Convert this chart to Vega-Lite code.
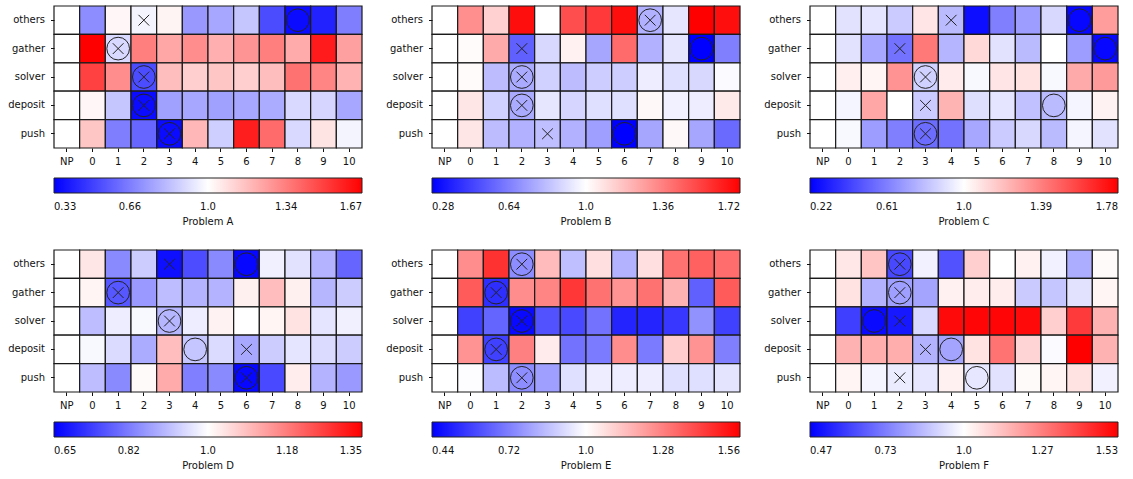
{
"$schema": "https://vega.github.io/schema/vega-lite/v6.json",
"padding": {"left": 7, "top": 5, "right": 5, "bottom": 5},
"columns": 3,
"spacing": {"row": 102, "column": 70},
"bounds": "flush",
"resolve": {"scale": {"color": "independent", "x": "independent", "y": "independent"}, "legend": {"color": "independent"}},
"config": {
  "view": {"stroke": null},
  "font": "DejaVu Sans",
  "axis": {"domain": false, "grid": false, "tickColor": "#111", "tickSize": 3.5, "labelFontSize": 10, "labelColor": "#111"},
  "axisX": {"labelAngle": 0, "labelPadding": 5},
  "axisY": {"labelPadding": 6},
  "legend": {"orient": "bottom", "direction": "horizontal", "gradientLength": 308, "gradientThickness": 15, "gradientStrokeColor": "#222", "gradientStrokeWidth": 1, "labelFontSize": 10, "labelColor": "#111", "labelAlign": "center", "titleOrient": "bottom", "titleAnchor": "middle", "titleFontSize": 10, "titleFontWeight": "normal", "titleColor": "#111", "titlePadding": 5, "offset": 11, "labelOverlap": false}
},
"datasets": {
"cells": [
{"p":"A","r":"others","c":"NP","v":1},{"p":"A","r":"others","c":"0","v":0.70},{"p":"A","r":"others","c":"1","v":1.02},{"p":"A","r":"others","c":"2","v":0.97},{"p":"A","r":"others","c":"3","v":1.03},{"p":"A","r":"others","c":"4","v":0.73},{"p":"A","r":"others","c":"5","v":0.77},{"p":"A","r":"others","c":"6","v":0.85},{"p":"A","r":"others","c":"7","v":0.53},{"p":"A","r":"others","c":"8","v":0.36},{"p":"A","r":"others","c":"9","v":0.42},{"p":"A","r":"others","c":"10","v":0.66},
{"p":"A","r":"gather","c":"NP","v":1},{"p":"A","r":"gather","c":"0","v":1.67},{"p":"A","r":"gather","c":"1","v":0.90},{"p":"A","r":"gather","c":"2","v":1.34},{"p":"A","r":"gather","c":"3","v":1.23},{"p":"A","r":"gather","c":"4","v":1.30},{"p":"A","r":"gather","c":"5","v":1.21},{"p":"A","r":"gather","c":"6","v":1.28},{"p":"A","r":"gather","c":"7","v":1.34},{"p":"A","r":"gather","c":"8","v":1.22},{"p":"A","r":"gather","c":"9","v":1.60},{"p":"A","r":"gather","c":"10","v":1.25},
{"p":"A","r":"solver","c":"NP","v":1},{"p":"A","r":"solver","c":"0","v":1.50},{"p":"A","r":"solver","c":"1","v":1.30},{"p":"A","r":"solver","c":"2","v":0.53},{"p":"A","r":"solver","c":"3","v":1.17},{"p":"A","r":"solver","c":"4","v":1.13},{"p":"A","r":"solver","c":"5","v":1.15},{"p":"A","r":"solver","c":"6","v":1.13},{"p":"A","r":"solver","c":"7","v":1.17},{"p":"A","r":"solver","c":"8","v":1.37},{"p":"A","r":"solver","c":"9","v":1.32},{"p":"A","r":"solver","c":"10","v":1.20},
{"p":"A","r":"deposit","c":"NP","v":1},{"p":"A","r":"deposit","c":"0","v":1.02},{"p":"A","r":"deposit","c":"1","v":0.85},{"p":"A","r":"deposit","c":"2","v":0.36},{"p":"A","r":"deposit","c":"3","v":0.75},{"p":"A","r":"deposit","c":"4","v":0.77},{"p":"A","r":"deposit","c":"5","v":0.75},{"p":"A","r":"deposit","c":"6","v":0.77},{"p":"A","r":"deposit","c":"7","v":0.78},{"p":"A","r":"deposit","c":"8","v":0.90},{"p":"A","r":"deposit","c":"9","v":0.89},{"p":"A","r":"deposit","c":"10","v":0.77},
{"p":"A","r":"push","c":"NP","v":1},{"p":"A","r":"push","c":"0","v":1.15},{"p":"A","r":"push","c":"1","v":0.66},{"p":"A","r":"push","c":"2","v":0.60},{"p":"A","r":"push","c":"3","v":0.36},{"p":"A","r":"push","c":"4","v":1.19},{"p":"A","r":"push","c":"5","v":0.87},{"p":"A","r":"push","c":"6","v":1.59},{"p":"A","r":"push","c":"7","v":1.39},{"p":"A","r":"push","c":"8","v":0.90},{"p":"A","r":"push","c":"9","v":1.07},{"p":"A","r":"push","c":"10","v":0.97},
{"p":"B","r":"others","c":"NP","v":1},{"p":"B","r":"others","c":"0","v":1.32},{"p":"B","r":"others","c":"1","v":1.13},{"p":"B","r":"others","c":"2","v":1.68},{"p":"B","r":"others","c":"3","v":1.0},{"p":"B","r":"others","c":"4","v":1.50},{"p":"B","r":"others","c":"5","v":1.56},{"p":"B","r":"others","c":"6","v":1.68},{"p":"B","r":"others","c":"7","v":0.78},{"p":"B","r":"others","c":"8","v":0.93},{"p":"B","r":"others","c":"9","v":1.72},{"p":"B","r":"others","c":"10","v":1.68},
{"p":"B","r":"gather","c":"NP","v":1},{"p":"B","r":"gather","c":"0","v":1.01},{"p":"B","r":"gather","c":"1","v":1.24},{"p":"B","r":"gather","c":"2","v":0.55},{"p":"B","r":"gather","c":"3","v":0.89},{"p":"B","r":"gather","c":"4","v":1.04},{"p":"B","r":"gather","c":"5","v":0.75},{"p":"B","r":"gather","c":"6","v":1.42},{"p":"B","r":"gather","c":"7","v":0.78},{"p":"B","r":"gather","c":"8","v":0.93},{"p":"B","r":"gather","c":"9","v":0.28},{"p":"B","r":"gather","c":"10","v":0.64},
{"p":"B","r":"solver","c":"NP","v":1},{"p":"B","r":"solver","c":"0","v":1.01},{"p":"B","r":"solver","c":"1","v":0.81},{"p":"B","r":"solver","c":"2","v":0.76},{"p":"B","r":"solver","c":"3","v":0.87},{"p":"B","r":"solver","c":"4","v":0.81},{"p":"B","r":"solver","c":"5","v":0.86},{"p":"B","r":"solver","c":"6","v":0.86},{"p":"B","r":"solver","c":"7","v":0.95},{"p":"B","r":"solver","c":"8","v":0.91},{"p":"B","r":"solver","c":"9","v":0.89},{"p":"B","r":"solver","c":"10","v":0.99},
{"p":"B","r":"deposit","c":"NP","v":1},{"p":"B","r":"deposit","c":"0","v":1.07},{"p":"B","r":"deposit","c":"1","v":0.87},{"p":"B","r":"deposit","c":"2","v":0.76},{"p":"B","r":"deposit","c":"3","v":0.93},{"p":"B","r":"deposit","c":"4","v":0.88},{"p":"B","r":"deposit","c":"5","v":0.91},{"p":"B","r":"deposit","c":"6","v":0.91},{"p":"B","r":"deposit","c":"7","v":1.02},{"p":"B","r":"deposit","c":"8","v":0.96},{"p":"B","r":"deposit","c":"9","v":0.95},{"p":"B","r":"deposit","c":"10","v":1.06},
{"p":"B","r":"push","c":"NP","v":1},{"p":"B","r":"push","c":"0","v":1.07},{"p":"B","r":"push","c":"1","v":0.81},{"p":"B","r":"push","c":"2","v":0.78},{"p":"B","r":"push","c":"3","v":0.82},{"p":"B","r":"push","c":"4","v":0.78},{"p":"B","r":"push","c":"5","v":0.73},{"p":"B","r":"push","c":"6","v":0.28},{"p":"B","r":"push","c":"7","v":0.75},{"p":"B","r":"push","c":"8","v":1.02},{"p":"B","r":"push","c":"9","v":0.75},{"p":"B","r":"push","c":"10","v":0.58},
{"p":"C","r":"others","c":"NP","v":1},{"p":"C","r":"others","c":"0","v":0.91},{"p":"C","r":"others","c":"1","v":0.92},{"p":"C","r":"others","c":"2","v":0.84},{"p":"C","r":"others","c":"3","v":1.08},{"p":"C","r":"others","c":"4","v":0.79},{"p":"C","r":"others","c":"5","v":0.26},{"p":"C","r":"others","c":"6","v":0.61},{"p":"C","r":"others","c":"7","v":0.70},{"p":"C","r":"others","c":"8","v":0.88},{"p":"C","r":"others","c":"9","v":0.24},{"p":"C","r":"others","c":"10","v":1.30},
{"p":"C","r":"gather","c":"NP","v":1},{"p":"C","r":"gather","c":"0","v":0.91},{"p":"C","r":"gather","c":"1","v":0.73},{"p":"C","r":"gather","c":"2","v":0.57},{"p":"C","r":"gather","c":"3","v":1.41},{"p":"C","r":"gather","c":"4","v":0.77},{"p":"C","r":"gather","c":"5","v":1.12},{"p":"C","r":"gather","c":"6","v":0.91},{"p":"C","r":"gather","c":"7","v":0.79},{"p":"C","r":"gather","c":"8","v":1.0},{"p":"C","r":"gather","c":"9","v":0.70},{"p":"C","r":"gather","c":"10","v":0.24},
{"p":"C","r":"solver","c":"NP","v":1},{"p":"C","r":"solver","c":"0","v":1.05},{"p":"C","r":"solver","c":"1","v":1.03},{"p":"C","r":"solver","c":"2","v":1.33},{"p":"C","r":"solver","c":"3","v":0.86},{"p":"C","r":"solver","c":"4","v":1.06},{"p":"C","r":"solver","c":"5","v":0.98},{"p":"C","r":"solver","c":"6","v":1.08},{"p":"C","r":"solver","c":"7","v":1.09},{"p":"C","r":"solver","c":"8","v":0.98},{"p":"C","r":"solver","c":"9","v":1.26},{"p":"C","r":"solver","c":"10","v":1.31},
{"p":"C","r":"deposit","c":"NP","v":1},{"p":"C","r":"deposit","c":"0","v":0.97},{"p":"C","r":"deposit","c":"1","v":1.27},{"p":"C","r":"deposit","c":"2","v":1.0},{"p":"C","r":"deposit","c":"3","v":0.84},{"p":"C","r":"deposit","c":"4","v":1.23},{"p":"C","r":"deposit","c":"5","v":0.90},{"p":"C","r":"deposit","c":"6","v":0.92},{"p":"C","r":"deposit","c":"7","v":0.81},{"p":"C","r":"deposit","c":"8","v":0.79},{"p":"C","r":"deposit","c":"9","v":0.97},{"p":"C","r":"deposit","c":"10","v":1.04},
{"p":"C","r":"push","c":"NP","v":1},{"p":"C","r":"push","c":"0","v":0.98},{"p":"C","r":"push","c":"1","v":0.70},{"p":"C","r":"push","c":"2","v":0.61},{"p":"C","r":"push","c":"3","v":0.55},{"p":"C","r":"push","c":"4","v":0.57},{"p":"C","r":"push","c":"5","v":0.73},{"p":"C","r":"push","c":"6","v":0.84},{"p":"C","r":"push","c":"7","v":0.88},{"p":"C","r":"push","c":"8","v":0.79},{"p":"C","r":"push","c":"9","v":0.97},{"p":"C","r":"push","c":"10","v":0.91},
{"p":"D","r":"others","c":"NP","v":1},{"p":"D","r":"others","c":"0","v":1.035},{"p":"D","r":"others","c":"1","v":0.84},{"p":"D","r":"others","c":"2","v":0.93},{"p":"D","r":"others","c":"3","v":0.67},{"p":"D","r":"others","c":"4","v":0.755},{"p":"D","r":"others","c":"5","v":0.84},{"p":"D","r":"others","c":"6","v":0.66},{"p":"D","r":"others","c":"7","v":0.98},{"p":"D","r":"others","c":"8","v":0.96},{"p":"D","r":"others","c":"9","v":0.895},{"p":"D","r":"others","c":"10","v":0.79},
{"p":"D","r":"gather","c":"NP","v":1},{"p":"D","r":"gather","c":"0","v":1.014},{"p":"D","r":"gather","c":"1","v":0.77},{"p":"D","r":"gather","c":"2","v":0.86},{"p":"D","r":"gather","c":"3","v":0.91},{"p":"D","r":"gather","c":"4","v":0.895},{"p":"D","r":"gather","c":"5","v":0.895},{"p":"D","r":"gather","c":"6","v":1.02},{"p":"D","r":"gather","c":"7","v":1.09},{"p":"D","r":"gather","c":"8","v":1.02},{"p":"D","r":"gather","c":"9","v":0.90},{"p":"D","r":"gather","c":"10","v":0.93},
{"p":"D","r":"solver","c":"NP","v":1},{"p":"D","r":"solver","c":"0","v":0.91},{"p":"D","r":"solver","c":"1","v":0.975},{"p":"D","r":"solver","c":"2","v":0.99},{"p":"D","r":"solver","c":"3","v":0.90},{"p":"D","r":"solver","c":"4","v":0.975},{"p":"D","r":"solver","c":"5","v":1.018},{"p":"D","r":"solver","c":"6","v":1.0},{"p":"D","r":"solver","c":"7","v":1.014},{"p":"D","r":"solver","c":"8","v":1.04},{"p":"D","r":"solver","c":"9","v":0.965},{"p":"D","r":"solver","c":"10","v":0.98},
{"p":"D","r":"deposit","c":"NP","v":1},{"p":"D","r":"deposit","c":"0","v":0.99},{"p":"D","r":"deposit","c":"1","v":0.95},{"p":"D","r":"deposit","c":"2","v":0.885},{"p":"D","r":"deposit","c":"3","v":1.09},{"p":"D","r":"deposit","c":"4","v":0.92},{"p":"D","r":"deposit","c":"5","v":0.95},{"p":"D","r":"deposit","c":"6","v":0.88},{"p":"D","r":"deposit","c":"7","v":0.93},{"p":"D","r":"deposit","c":"8","v":0.965},{"p":"D","r":"deposit","c":"9","v":0.95},{"p":"D","r":"deposit","c":"10","v":0.93},
{"p":"D","r":"push","c":"NP","v":1},{"p":"D","r":"push","c":"0","v":0.91},{"p":"D","r":"push","c":"1","v":0.84},{"p":"D","r":"push","c":"2","v":1.007},{"p":"D","r":"push","c":"3","v":1.115},{"p":"D","r":"push","c":"4","v":0.825},{"p":"D","r":"push","c":"5","v":0.84},{"p":"D","r":"push","c":"6","v":0.66},{"p":"D","r":"push","c":"7","v":0.75},{"p":"D","r":"push","c":"8","v":1.025},{"p":"D","r":"push","c":"9","v":0.895},{"p":"D","r":"push","c":"10","v":0.86},
{"p":"E","r":"others","c":"NP","v":1},{"p":"E","r":"others","c":"0","v":1.25},{"p":"E","r":"others","c":"1","v":1.45},{"p":"E","r":"others","c":"2","v":0.75},{"p":"E","r":"others","c":"3","v":1.15},{"p":"E","r":"others","c":"4","v":0.86},{"p":"E","r":"others","c":"5","v":1.07},{"p":"E","r":"others","c":"6","v":0.83},{"p":"E","r":"others","c":"7","v":1.07},{"p":"E","r":"others","c":"8","v":1.31},{"p":"E","r":"others","c":"9","v":1.35},{"p":"E","r":"others","c":"10","v":1.32},
{"p":"E","r":"gather","c":"NP","v":1},{"p":"E","r":"gather","c":"0","v":1.36},{"p":"E","r":"gather","c":"1","v":0.54},{"p":"E","r":"gather","c":"2","v":1.25},{"p":"E","r":"gather","c":"3","v":1.27},{"p":"E","r":"gather","c":"4","v":1.44},{"p":"E","r":"gather","c":"5","v":1.31},{"p":"E","r":"gather","c":"6","v":1.24},{"p":"E","r":"gather","c":"7","v":1.31},{"p":"E","r":"gather","c":"8","v":1.17},{"p":"E","r":"gather","c":"9","v":0.65},{"p":"E","r":"gather","c":"10","v":1.36},
{"p":"E","r":"solver","c":"NP","v":1},{"p":"E","r":"solver","c":"0","v":0.58},{"p":"E","r":"solver","c":"1","v":0.66},{"p":"E","r":"solver","c":"2","v":0.46},{"p":"E","r":"solver","c":"3","v":0.62},{"p":"E","r":"solver","c":"4","v":0.60},{"p":"E","r":"solver","c":"5","v":0.69},{"p":"E","r":"solver","c":"6","v":0.52},{"p":"E","r":"solver","c":"7","v":0.52},{"p":"E","r":"solver","c":"8","v":0.56},{"p":"E","r":"solver","c":"9","v":0.76},{"p":"E","r":"solver","c":"10","v":0.58},
{"p":"E","r":"deposit","c":"NP","v":1},{"p":"E","r":"deposit","c":"0","v":1.24},{"p":"E","r":"deposit","c":"1","v":0.58},{"p":"E","r":"deposit","c":"2","v":1.28},{"p":"E","r":"deposit","c":"3","v":1.045},{"p":"E","r":"deposit","c":"4","v":0.69},{"p":"E","r":"deposit","c":"5","v":0.71},{"p":"E","r":"deposit","c":"6","v":1.25},{"p":"E","r":"deposit","c":"7","v":0.71},{"p":"E","r":"deposit","c":"8","v":1.11},{"p":"E","r":"deposit","c":"9","v":1.24},{"p":"E","r":"deposit","c":"10","v":0.72},
{"p":"E","r":"push","c":"NP","v":1},{"p":"E","r":"push","c":"0","v":0.995},{"p":"E","r":"push","c":"1","v":0.85},{"p":"E","r":"push","c":"2","v":0.75},{"p":"E","r":"push","c":"3","v":0.79},{"p":"E","r":"push","c":"4","v":0.93},{"p":"E","r":"push","c":"5","v":0.96},{"p":"E","r":"push","c":"6","v":0.96},{"p":"E","r":"push","c":"7","v":0.96},{"p":"E","r":"push","c":"8","v":0.93},{"p":"E","r":"push","c":"9","v":0.93},{"p":"E","r":"push","c":"10","v":0.94},
{"p":"F","r":"others","c":"NP","v":1},{"p":"F","r":"others","c":"0","v":1.05},{"p":"F","r":"others","c":"1","v":1.12},{"p":"F","r":"others","c":"2","v":0.62},{"p":"F","r":"others","c":"3","v":0.97},{"p":"F","r":"others","c":"4","v":0.64},{"p":"F","r":"others","c":"5","v":1.10},{"p":"F","r":"others","c":"6","v":1.0},{"p":"F","r":"others","c":"7","v":1.03},{"p":"F","r":"others","c":"8","v":0.97},{"p":"F","r":"others","c":"9","v":0.83},{"p":"F","r":"others","c":"10","v":1.01},
{"p":"F","r":"gather","c":"NP","v":1},{"p":"F","r":"gather","c":"0","v":1.06},{"p":"F","r":"gather","c":"1","v":0.84},{"p":"F","r":"gather","c":"2","v":0.80},{"p":"F","r":"gather","c":"3","v":0.81},{"p":"F","r":"gather","c":"4","v":1.03},{"p":"F","r":"gather","c":"5","v":1.04},{"p":"F","r":"gather","c":"6","v":1.04},{"p":"F","r":"gather","c":"7","v":0.89},{"p":"F","r":"gather","c":"8","v":0.88},{"p":"F","r":"gather","c":"9","v":0.94},{"p":"F","r":"gather","c":"10","v":1.02},
{"p":"F","r":"solver","c":"NP","v":1},{"p":"F","r":"solver","c":"0","v":0.60},{"p":"F","r":"solver","c":"1","v":0.49},{"p":"F","r":"solver","c":"2","v":0.52},{"p":"F","r":"solver","c":"3","v":0.92},{"p":"F","r":"solver","c":"4","v":1.51},{"p":"F","r":"solver","c":"5","v":1.52},{"p":"F","r":"solver","c":"6","v":1.52},{"p":"F","r":"solver","c":"7","v":1.51},{"p":"F","r":"solver","c":"8","v":1.10},{"p":"F","r":"solver","c":"9","v":1.41},{"p":"F","r":"solver","c":"10","v":1.16},
{"p":"F","r":"deposit","c":"NP","v":1},{"p":"F","r":"deposit","c":"0","v":1.16},{"p":"F","r":"deposit","c":"1","v":1.17},{"p":"F","r":"deposit","c":"2","v":1.17},{"p":"F","r":"deposit","c":"3","v":0.84},{"p":"F","r":"deposit","c":"4","v":0.81},{"p":"F","r":"deposit","c":"5","v":1.06},{"p":"F","r":"deposit","c":"6","v":1.29},{"p":"F","r":"deposit","c":"7","v":1.09},{"p":"F","r":"deposit","c":"8","v":0.99},{"p":"F","r":"deposit","c":"9","v":1.53},{"p":"F","r":"deposit","c":"10","v":1.16},
{"p":"F","r":"push","c":"NP","v":1},{"p":"F","r":"push","c":"0","v":1.02},{"p":"F","r":"push","c":"1","v":0.98},{"p":"F","r":"push","c":"2","v":0.96},{"p":"F","r":"push","c":"3","v":0.95},{"p":"F","r":"push","c":"4","v":1.03},{"p":"F","r":"push","c":"5","v":0.95},{"p":"F","r":"push","c":"6","v":0.94},{"p":"F","r":"push","c":"7","v":1.01},{"p":"F","r":"push","c":"8","v":1.02},{"p":"F","r":"push","c":"9","v":1.06},{"p":"F","r":"push","c":"10","v":0.97}
],
"marks": [
{"p":"A","r":"others","c":"2","s":"x"},{"p":"A","r":"others","c":"8","s":"o"},{"p":"A","r":"gather","c":"1","s":"o"},{"p":"A","r":"gather","c":"1","s":"x"},{"p":"A","r":"solver","c":"2","s":"o"},{"p":"A","r":"solver","c":"2","s":"x"},{"p":"A","r":"deposit","c":"2","s":"o"},{"p":"A","r":"deposit","c":"2","s":"x"},{"p":"A","r":"push","c":"3","s":"o"},{"p":"A","r":"push","c":"3","s":"x"},
{"p":"B","r":"others","c":"7","s":"o"},{"p":"B","r":"others","c":"7","s":"x"},{"p":"B","r":"gather","c":"2","s":"x"},{"p":"B","r":"gather","c":"9","s":"o"},{"p":"B","r":"solver","c":"2","s":"o"},{"p":"B","r":"solver","c":"2","s":"x"},{"p":"B","r":"deposit","c":"2","s":"o"},{"p":"B","r":"deposit","c":"2","s":"x"},{"p":"B","r":"push","c":"3","s":"x"},{"p":"B","r":"push","c":"6","s":"o"},
{"p":"C","r":"others","c":"4","s":"x"},{"p":"C","r":"others","c":"9","s":"o"},{"p":"C","r":"gather","c":"2","s":"x"},{"p":"C","r":"gather","c":"10","s":"o"},{"p":"C","r":"solver","c":"3","s":"o"},{"p":"C","r":"solver","c":"3","s":"x"},{"p":"C","r":"deposit","c":"3","s":"x"},{"p":"C","r":"deposit","c":"8","s":"o"},{"p":"C","r":"push","c":"3","s":"o"},{"p":"C","r":"push","c":"3","s":"x"},
{"p":"D","r":"others","c":"3","s":"x"},{"p":"D","r":"others","c":"6","s":"o"},{"p":"D","r":"gather","c":"1","s":"o"},{"p":"D","r":"gather","c":"1","s":"x"},{"p":"D","r":"solver","c":"3","s":"o"},{"p":"D","r":"solver","c":"3","s":"x"},{"p":"D","r":"deposit","c":"4","s":"o"},{"p":"D","r":"deposit","c":"6","s":"x"},{"p":"D","r":"push","c":"6","s":"o"},{"p":"D","r":"push","c":"6","s":"x"},
{"p":"E","r":"others","c":"2","s":"o"},{"p":"E","r":"others","c":"2","s":"x"},{"p":"E","r":"gather","c":"1","s":"o"},{"p":"E","r":"gather","c":"1","s":"x"},{"p":"E","r":"solver","c":"2","s":"o"},{"p":"E","r":"solver","c":"2","s":"x"},{"p":"E","r":"deposit","c":"1","s":"o"},{"p":"E","r":"deposit","c":"1","s":"x"},{"p":"E","r":"push","c":"2","s":"o"},{"p":"E","r":"push","c":"2","s":"x"},
{"p":"F","r":"others","c":"2","s":"o"},{"p":"F","r":"others","c":"2","s":"x"},{"p":"F","r":"gather","c":"2","s":"o"},{"p":"F","r":"gather","c":"2","s":"x"},{"p":"F","r":"solver","c":"1","s":"o"},{"p":"F","r":"solver","c":"2","s":"x"},{"p":"F","r":"deposit","c":"3","s":"x"},{"p":"F","r":"deposit","c":"4","s":"o"},{"p":"F","r":"push","c":"2","s":"x"},{"p":"F","r":"push","c":"5","s":"o"}
]
},
"concat": [
{"width": 308, "height": 142, "layer": [
 {"data": {"name": "cells"}, "transform": [{"filter": "datum.p == 'A'"}], "mark": {"type": "rect", "stroke": "#1a1a1a", "strokeWidth": 1.2},
  "encoding": {"x": {"field": "c", "type": "ordinal", "title": null, "scale": {"type": "band", "domain": ["NP","0","1","2","3","4","5","6","7","8","9","10"], "paddingInner": 0, "paddingOuter": 0}},
   "y": {"field": "r", "type": "ordinal", "title": null, "scale": {"type": "band", "domain": ["others","gather","solver","deposit","push"], "paddingInner": 0, "paddingOuter": 0}},
   "color": {"field": "v", "type": "quantitative", "title": "Problem A", "scale": {"domain": [0.33, 1, 1.67], "range": ["#0000ff", "#ffffff", "#ff0000"], "interpolate": "rgb"}, "legend": {"values": [0.33, 0.66, 1.0, 1.34, 1.67], "labelOffset": 9, "labelExpr": "datum.value == 1 ? '1.0' : format(datum.value, '.2f')"}}}},
 {"data": {"name": "marks"}, "transform": [{"filter": "datum.p == 'A' && datum.s == 'o'"}], "mark": {"type": "point", "shape": "circle", "size": 515, "filled": false, "stroke": "#222", "strokeWidth": 1, "opacity": 1},
  "encoding": {"x": {"field": "c", "type": "ordinal"}, "y": {"field": "r", "type": "ordinal"}}},
 {"data": {"name": "marks"}, "transform": [{"filter": "datum.p == 'A' && datum.s == 'x'"}], "mark": {"type": "point", "shape": "M-1,-1L1,1M-1,1L1,-1", "size": 115, "filled": false, "stroke": "#222", "strokeWidth": 1, "opacity": 1},
  "encoding": {"x": {"field": "c", "type": "ordinal"}, "y": {"field": "r", "type": "ordinal"}}}
]},
{"width": 308, "height": 142, "layer": [
 {"data": {"name": "cells"}, "transform": [{"filter": "datum.p == 'B'"}], "mark": {"type": "rect", "stroke": "#1a1a1a", "strokeWidth": 1.2},
  "encoding": {"x": {"field": "c", "type": "ordinal", "title": null, "scale": {"type": "band", "domain": ["NP","0","1","2","3","4","5","6","7","8","9","10"], "paddingInner": 0, "paddingOuter": 0}},
   "y": {"field": "r", "type": "ordinal", "title": null, "scale": {"type": "band", "domain": ["others","gather","solver","deposit","push"], "paddingInner": 0, "paddingOuter": 0}},
   "color": {"field": "v", "type": "quantitative", "title": "Problem B", "scale": {"domain": [0.28, 1, 1.72], "range": ["#0000ff", "#ffffff", "#ff0000"], "interpolate": "rgb"}, "legend": {"values": [0.28, 0.64, 1.0, 1.36, 1.72], "labelOffset": 9, "labelExpr": "datum.value == 1 ? '1.0' : format(datum.value, '.2f')"}}}},
 {"data": {"name": "marks"}, "transform": [{"filter": "datum.p == 'B' && datum.s == 'o'"}], "mark": {"type": "point", "shape": "circle", "size": 515, "filled": false, "stroke": "#222", "strokeWidth": 1, "opacity": 1},
  "encoding": {"x": {"field": "c", "type": "ordinal"}, "y": {"field": "r", "type": "ordinal"}}},
 {"data": {"name": "marks"}, "transform": [{"filter": "datum.p == 'B' && datum.s == 'x'"}], "mark": {"type": "point", "shape": "M-1,-1L1,1M-1,1L1,-1", "size": 115, "filled": false, "stroke": "#222", "strokeWidth": 1, "opacity": 1},
  "encoding": {"x": {"field": "c", "type": "ordinal"}, "y": {"field": "r", "type": "ordinal"}}}
]},
{"width": 308, "height": 142, "layer": [
 {"data": {"name": "cells"}, "transform": [{"filter": "datum.p == 'C'"}], "mark": {"type": "rect", "stroke": "#1a1a1a", "strokeWidth": 1.2},
  "encoding": {"x": {"field": "c", "type": "ordinal", "title": null, "scale": {"type": "band", "domain": ["NP","0","1","2","3","4","5","6","7","8","9","10"], "paddingInner": 0, "paddingOuter": 0}},
   "y": {"field": "r", "type": "ordinal", "title": null, "scale": {"type": "band", "domain": ["others","gather","solver","deposit","push"], "paddingInner": 0, "paddingOuter": 0}},
   "color": {"field": "v", "type": "quantitative", "title": "Problem C", "scale": {"domain": [0.22, 1, 1.78], "range": ["#0000ff", "#ffffff", "#ff0000"], "interpolate": "rgb"}, "legend": {"values": [0.22, 0.61, 1.0, 1.39, 1.78], "labelOffset": 9, "labelExpr": "datum.value == 1 ? '1.0' : format(datum.value, '.2f')"}}}},
 {"data": {"name": "marks"}, "transform": [{"filter": "datum.p == 'C' && datum.s == 'o'"}], "mark": {"type": "point", "shape": "circle", "size": 515, "filled": false, "stroke": "#222", "strokeWidth": 1, "opacity": 1},
  "encoding": {"x": {"field": "c", "type": "ordinal"}, "y": {"field": "r", "type": "ordinal"}}},
 {"data": {"name": "marks"}, "transform": [{"filter": "datum.p == 'C' && datum.s == 'x'"}], "mark": {"type": "point", "shape": "M-1,-1L1,1M-1,1L1,-1", "size": 115, "filled": false, "stroke": "#222", "strokeWidth": 1, "opacity": 1},
  "encoding": {"x": {"field": "c", "type": "ordinal"}, "y": {"field": "r", "type": "ordinal"}}}
]},
{"width": 308, "height": 142, "layer": [
 {"data": {"name": "cells"}, "transform": [{"filter": "datum.p == 'D'"}], "mark": {"type": "rect", "stroke": "#1a1a1a", "strokeWidth": 1.2},
  "encoding": {"x": {"field": "c", "type": "ordinal", "title": null, "scale": {"type": "band", "domain": ["NP","0","1","2","3","4","5","6","7","8","9","10"], "paddingInner": 0, "paddingOuter": 0}},
   "y": {"field": "r", "type": "ordinal", "title": null, "scale": {"type": "band", "domain": ["others","gather","solver","deposit","push"], "paddingInner": 0, "paddingOuter": 0}},
   "color": {"field": "v", "type": "quantitative", "title": "Problem D", "scale": {"domain": [0.65, 1, 1.35], "range": ["#0000ff", "#ffffff", "#ff0000"], "interpolate": "rgb"}, "legend": {"values": [0.65, 0.82, 1.0, 1.18, 1.35], "labelOffset": 9, "labelExpr": "datum.value == 1 ? '1.0' : format(datum.value, '.2f')"}}}},
 {"data": {"name": "marks"}, "transform": [{"filter": "datum.p == 'D' && datum.s == 'o'"}], "mark": {"type": "point", "shape": "circle", "size": 515, "filled": false, "stroke": "#222", "strokeWidth": 1, "opacity": 1},
  "encoding": {"x": {"field": "c", "type": "ordinal"}, "y": {"field": "r", "type": "ordinal"}}},
 {"data": {"name": "marks"}, "transform": [{"filter": "datum.p == 'D' && datum.s == 'x'"}], "mark": {"type": "point", "shape": "M-1,-1L1,1M-1,1L1,-1", "size": 115, "filled": false, "stroke": "#222", "strokeWidth": 1, "opacity": 1},
  "encoding": {"x": {"field": "c", "type": "ordinal"}, "y": {"field": "r", "type": "ordinal"}}}
]},
{"width": 308, "height": 142, "layer": [
 {"data": {"name": "cells"}, "transform": [{"filter": "datum.p == 'E'"}], "mark": {"type": "rect", "stroke": "#1a1a1a", "strokeWidth": 1.2},
  "encoding": {"x": {"field": "c", "type": "ordinal", "title": null, "scale": {"type": "band", "domain": ["NP","0","1","2","3","4","5","6","7","8","9","10"], "paddingInner": 0, "paddingOuter": 0}},
   "y": {"field": "r", "type": "ordinal", "title": null, "scale": {"type": "band", "domain": ["others","gather","solver","deposit","push"], "paddingInner": 0, "paddingOuter": 0}},
   "color": {"field": "v", "type": "quantitative", "title": "Problem E", "scale": {"domain": [0.44, 1, 1.56], "range": ["#0000ff", "#ffffff", "#ff0000"], "interpolate": "rgb"}, "legend": {"values": [0.44, 0.72, 1.0, 1.28, 1.56], "labelOffset": 9, "labelExpr": "datum.value == 1 ? '1.0' : format(datum.value, '.2f')"}}}},
 {"data": {"name": "marks"}, "transform": [{"filter": "datum.p == 'E' && datum.s == 'o'"}], "mark": {"type": "point", "shape": "circle", "size": 515, "filled": false, "stroke": "#222", "strokeWidth": 1, "opacity": 1},
  "encoding": {"x": {"field": "c", "type": "ordinal"}, "y": {"field": "r", "type": "ordinal"}}},
 {"data": {"name": "marks"}, "transform": [{"filter": "datum.p == 'E' && datum.s == 'x'"}], "mark": {"type": "point", "shape": "M-1,-1L1,1M-1,1L1,-1", "size": 115, "filled": false, "stroke": "#222", "strokeWidth": 1, "opacity": 1},
  "encoding": {"x": {"field": "c", "type": "ordinal"}, "y": {"field": "r", "type": "ordinal"}}}
]},
{"width": 308, "height": 142, "layer": [
 {"data": {"name": "cells"}, "transform": [{"filter": "datum.p == 'F'"}], "mark": {"type": "rect", "stroke": "#1a1a1a", "strokeWidth": 1.2},
  "encoding": {"x": {"field": "c", "type": "ordinal", "title": null, "scale": {"type": "band", "domain": ["NP","0","1","2","3","4","5","6","7","8","9","10"], "paddingInner": 0, "paddingOuter": 0}},
   "y": {"field": "r", "type": "ordinal", "title": null, "scale": {"type": "band", "domain": ["others","gather","solver","deposit","push"], "paddingInner": 0, "paddingOuter": 0}},
   "color": {"field": "v", "type": "quantitative", "title": "Problem F", "scale": {"domain": [0.47, 1, 1.53], "range": ["#0000ff", "#ffffff", "#ff0000"], "interpolate": "rgb"}, "legend": {"values": [0.47, 0.73, 1.0, 1.27, 1.53], "labelOffset": 9, "labelExpr": "datum.value == 1 ? '1.0' : format(datum.value, '.2f')"}}}},
 {"data": {"name": "marks"}, "transform": [{"filter": "datum.p == 'F' && datum.s == 'o'"}], "mark": {"type": "point", "shape": "circle", "size": 515, "filled": false, "stroke": "#222", "strokeWidth": 1, "opacity": 1},
  "encoding": {"x": {"field": "c", "type": "ordinal"}, "y": {"field": "r", "type": "ordinal"}}},
 {"data": {"name": "marks"}, "transform": [{"filter": "datum.p == 'F' && datum.s == 'x'"}], "mark": {"type": "point", "shape": "M-1,-1L1,1M-1,1L1,-1", "size": 115, "filled": false, "stroke": "#222", "strokeWidth": 1, "opacity": 1},
  "encoding": {"x": {"field": "c", "type": "ordinal"}, "y": {"field": "r", "type": "ordinal"}}}
]}
]
}
